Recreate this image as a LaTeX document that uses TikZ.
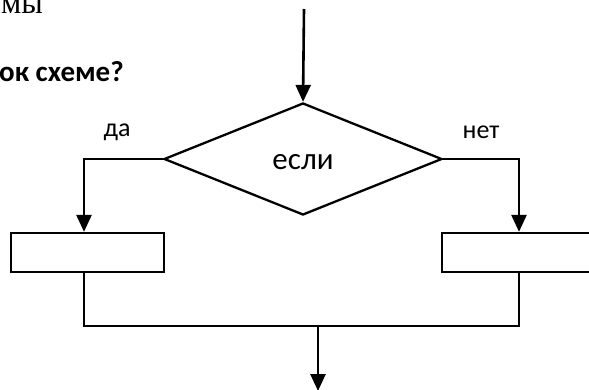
\documentclass[tikz,border=0pt]{standalone}
\usepackage{fontspec}
\setmainfont{Carlito}
\newfontfamily\serifru{Liberation Serif}
\usetikzlibrary{shapes.geometric,arrows.meta}
\begin{document}
\begin{tikzpicture}[x=1pt,y=1pt,
  arr/.style={line width=2.6pt,-{Triangle[width=15pt,length=17pt]}},
  shapeline/.style={draw,line width=2.3pt},
  thin line/.style={line width=1.8pt},
  blockbox/.style={shapeline,rectangle,minimum width=153pt,minimum height=39pt,inner sep=0pt},
  decision/.style={shapeline,diamond,minimum width=278pt,minimum height=112pt,inner sep=0pt},
  lbl/.style={font=\fontsize{26}{28}\selectfont,inner sep=0pt}]
\useasboundingbox (0,0) rectangle (589,-389);
\clip (0,0) rectangle (589,-389);
% header text fragments
\node[anchor=base east,inner sep=0pt,font=\serifru\fontsize{32}{34}\selectfont] (t1) at (43,-13) {мы};
\node[anchor=base east,inner sep=0pt,font=\bfseries\fontsize{29}{31}\selectfont] (t2) at (124,-81) {ок схеме?};
% shapes
\node[decision] (d) at (303,-159) {};
\node[font=\fontsize{31}{33}\selectfont,inner sep=0pt] (dt) at (303,-162) {если};
\node[blockbox] (lb) at (87.5,-252.5) {};
\node[blockbox] (rb) at (518.5,-252.5) {};
% labels
\node[lbl] (da) at (117,-132) {да};
\node[lbl] (net) at (481,-132) {нет};
% coordinates
\coordinate (top) at (304,-9);
\coordinate (la) at (84,-159);
\coordinate (ra) at (519,-159);
\coordinate (m) at (318,-326);
\coordinate (ml) at (84,-326);
\coordinate (mr) at (519,-326);
\coordinate (bot) at (318,-391);
% connectors
\draw[arr] (top) -- (d.north);
\draw[arr] (d.west) -- (la) -- (la |- lb.north);
\draw[arr] (d.east) -- (ra) -- (ra |- rb.north);
\draw[thin line] (ml |- lb.south) -- (ml) -- (mr) -- (mr |- rb.south);
\draw[arr] (m) -- (bot);
\end{tikzpicture}
\end{document}
